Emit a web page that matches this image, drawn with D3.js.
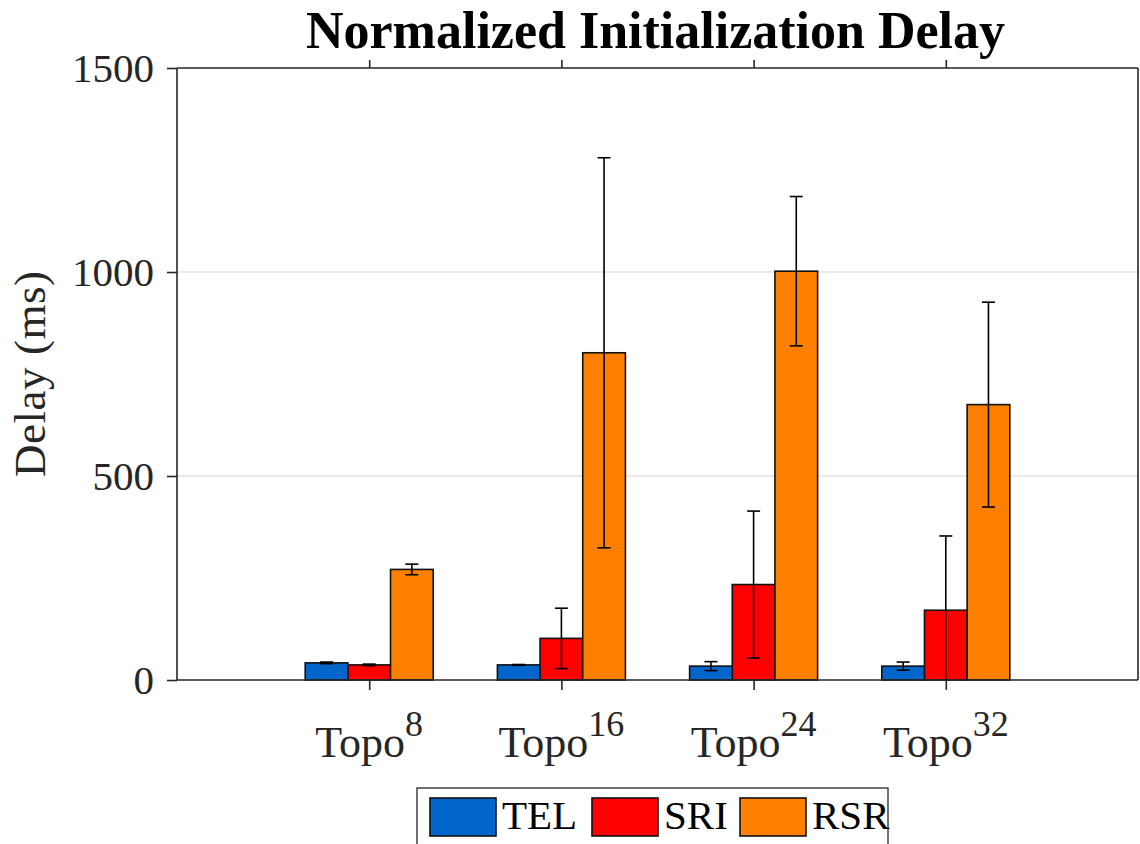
<!DOCTYPE html>
<html>
<head>
<meta charset="utf-8">
<script src="https://cdn.jsdelivr.net/npm/d3@7"></script>
<style>
  html, body { margin: 0; padding: 0; background: #fff; }
  svg { display: block; }
  text { font-family: "Liberation Serif", "Times New Roman", serif; }
</style>
</head>
<body>
<div id="chart"></div>
<script>
// ---- data ----
const categories = ["8", "16", "24", "32"];   // Topo superscripts
const series = ["TEL", "SRI", "RSR"];
const telValues = [42, 37, 34, 34];
const sriValues = [37, 102, 234, 171];
const rsrValues = [271, 802, 1002, 675];
const telErrors = [2, 1, 11, 10];
const sriErrors = [2, 74, 180, 182];
const rsrErrors = [13, 478, 183, 251];
const yTicks = [0, 500, 1000, 1500];
const colors = ["#0066cc", "#ff0000", "#ff8000"];

const values = [telValues, sriValues, rsrValues];
const errors = [telErrors, sriErrors, rsrErrors];

const W = 1140, H = 844;
const plot = { left: 177, right: 1138, top: 68, bottom: 680 };

const svg = d3.select("#chart").append("svg").attr("width", W).attr("height", H);

const x = d3.scaleLinear().domain([0, 5]).range([plot.left, plot.right]);
const y = d3.scaleLinear().domain([0, 1500]).range([plot.bottom, plot.top]);

const barW = 0.222;            // in x units
const offsets = [-barW, 0, barW];
const axisColor = "#262626";

// gridlines
svg.append("g").selectAll("line").data(yTicks.filter(t => t > 0 && t < 1500)).join("line")
  .attr("x1", plot.left).attr("x2", plot.right)
  .attr("y1", d => y(d)).attr("y2", d => y(d))
  .attr("stroke", "#e3e3e3").attr("stroke-width", 1.5);

// bars
series.forEach((s, si) => {
  const g = svg.append("g");
  g.selectAll("rect").data(values[si]).join("rect")
    .attr("x", (d, i) => x(i + 1 + offsets[si] - barW / 2))
    .attr("width", x(barW) - x(0))
    .attr("y", d => y(d))
    .attr("height", d => y(0) - y(d))
    .attr("fill", colors[si])
    .attr("stroke", "#111").attr("stroke-width", 1.6);
});

// error bars (clipped to plot)
svg.append("clipPath").attr("id", "clip").append("rect")
  .attr("x", plot.left).attr("y", plot.top)
  .attr("width", plot.right - plot.left).attr("height", plot.bottom - plot.top);
const eg = svg.append("g").attr("clip-path", "url(#clip)");
const capHalf = 6.5;
series.forEach((s, si) => {
  values[si].forEach((v, i) => {
    const cx = x(i + 1 + offsets[si]);
    const e = errors[si][i];
    eg.append("line").attr("x1", cx).attr("x2", cx)
      .attr("y1", y(v + e)).attr("y2", y(v - e))
      .attr("stroke", "#000").attr("stroke-width", 1.6);
    [v + e, v - e].forEach(b => {
      eg.append("line").attr("x1", cx - capHalf).attr("x2", cx + capHalf)
        .attr("y1", y(b)).attr("y2", y(b))
        .attr("stroke", "#000").attr("stroke-width", 1.6);
    });
  });
});

// axes
const yAxis = svg.append("g").attr("transform", `translate(${plot.left},0)`)
  .call(d3.axisLeft(y).tickValues(yTicks).tickSize(10).tickPadding(13).tickFormat(d3.format("d")));
yAxis.selectAll("text").style("font-size", "41px").style("fill", axisColor)
  .style("font-family", "'Liberation Serif', serif");

const xVals = categories.map((c, i) => i + 1);
const xAxis = svg.append("g").attr("transform", `translate(0,${plot.bottom})`)
  .call(d3.axisBottom(x).tickValues(xVals).tickSize(10).tickFormat(""));
const xTop = svg.append("g").attr("transform", `translate(0,${plot.top})`)
  .call(d3.axisTop(x).tickValues(xVals).tickSize(8).tickFormat(""));
const yRight = svg.append("g").attr("transform", `translate(${plot.right},0)`)
  .call(d3.axisRight(y).tickValues(yTicks).tickSize(0).tickFormat(""));

[yAxis, xAxis, xTop, yRight].forEach(a => {
  a.select(".domain").attr("stroke", axisColor).attr("stroke-width", 1.6);
  a.selectAll(".tick line").attr("stroke", axisColor).attr("stroke-width", 1.6);
});
[xAxis, xTop].forEach(a => a.select(".domain").attr("d", `M${plot.left},0H${plot.right}`));
yRight.select(".domain").attr("d", `M0,${plot.top}V${plot.bottom}`);
yAxis.select(".domain").attr("d", `M0,${plot.top}V${plot.bottom}`);

// x tick labels with superscripts
const xl = svg.append("g");
categories.forEach((c, i) => {
  const t = xl.append("text")
    .attr("x", x(i + 1)).attr("y", 757)
    .attr("text-anchor", "middle")
    .style("font-size", "44px").style("fill", axisColor);
  t.append("tspan").text("Topo");
  t.append("tspan").attr("dy", -21).style("font-size", "36px").text(c);
});

// y label
svg.append("text")
  .attr("transform", `translate(45,${(plot.top + plot.bottom) / 2}) rotate(-90)`)
  .attr("text-anchor", "middle")
  .style("font-size", "45px").style("fill", axisColor)
  .attr("textLength", 206).attr("lengthAdjust", "spacing")
  .text("Delay (ms)");

// title
svg.append("text")
  .attr("x", (plot.left + plot.right) / 2 - 2).attr("y", 48)
  .attr("text-anchor", "middle")
  .style("font-size", "52px").style("font-weight", "bold")
  .style("fill", "#000")
  .text("Normalized Initialization Delay");

// legend
const lg = svg.append("g");
lg.append("rect").attr("x", 417).attr("y", 788).attr("width", 471).attr("height", 70)
  .attr("fill", "#fff").attr("stroke", axisColor).attr("stroke-width", 1.3);
const legX = [430, 592, 740];
series.forEach((s, si) => {
  lg.append("rect").attr("x", legX[si]).attr("y", 798).attr("width", 66).attr("height", 38)
    .attr("fill", colors[si]).attr("stroke", "#111").attr("stroke-width", 1.6);
  lg.append("text").attr("x", legX[si] + 72).attr("y", 829)
    .style("font-size", "41px").style("fill", "#000").text(s);
});
</script>
</body>
</html>
